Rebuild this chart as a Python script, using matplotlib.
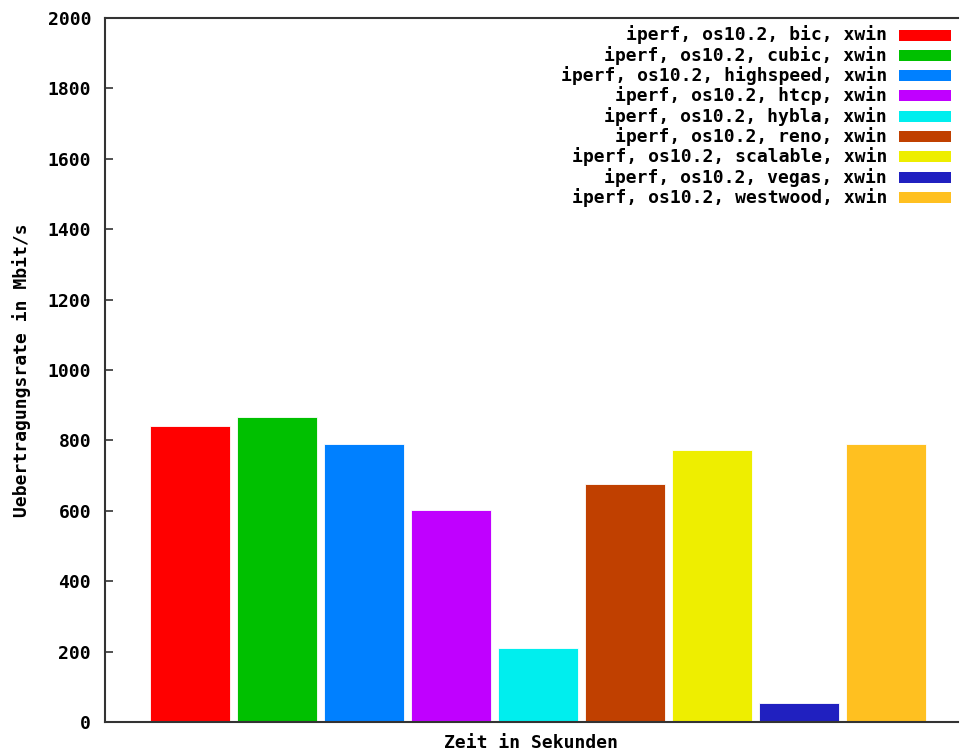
import matplotlib
matplotlib.use("Agg")
import matplotlib.pyplot as plt
from matplotlib.patches import Rectangle

algos = ["bic", "cubic", "highspeed", "htcp", "hybla", "reno", "scalable", "vegas", "westwood"]
rates = [840, 867, 790, 602, 211, 675, 772, 55, 790]
colors = ["#ff0000", "#00c000", "#0080ff", "#c000ff", "#00eeee",
          "#c04000", "#eeee00", "#2020c0", "#ffc020"]
labels = ["iperf, os10.2, %s, xwin" % a for a in algos]
yticks = [0, 200, 400, 600, 800, 1000, 1200, 1400, 1600, 1800, 2000]

FONT = dict(family="DejaVu Sans Mono", weight="bold", size=13)
AXCOL = "#333333"

fig = plt.figure(figsize=(9.6, 7.51), dpi=100)
ax = fig.add_axes([105 / 960, 29 / 751, 853 / 960, 704 / 751])

x = list(range(len(rates)))
ax.bar(x, rates, width=0.92, color=colors, edgecolor="white", linewidth=0.6)

ax.set_xlim(-0.98, 8.83)
ax.set_ylim(0, 2000)
ax.set_xticks([])
ax.set_yticks(yticks)
ax.set_yticklabels([str(t) for t in yticks], **FONT)
ax.tick_params(axis="y", direction="in", length=6, width=1.2, color=AXCOL, pad=10)
for s in ["left", "bottom", "top"]:
    ax.spines[s].set_color(AXCOL)
    ax.spines[s].set_linewidth(1.5)
ax.spines["right"].set_visible(False)

ax.set_ylabel("Uebertragungsrate in Mbit/s", labelpad=12, **FONT)
ax.set_xlabel("Zeit in Sekunden", labelpad=9, **FONT)

# legend, right aligned text with colour box after it
ax_w, ax_h = 853, 704
for i, (lab, col) in enumerate(zip(labels, colors)):
    ypix = 17 + 20.3 * i
    yy = 1 - ypix / ax_h
    ax.text((887 - 105) / ax_w, yy, lab, ha="right", va="center",
            transform=ax.transAxes, **FONT)
    ax.add_patch(Rectangle(((899 - 105) / ax_w, yy - 5.5 / ax_h), 52 / ax_w, 11 / ax_h,
                           transform=ax.transAxes, facecolor=col, edgecolor="none",
                           clip_on=False))

fig.savefig("out.png", dpi=100)
